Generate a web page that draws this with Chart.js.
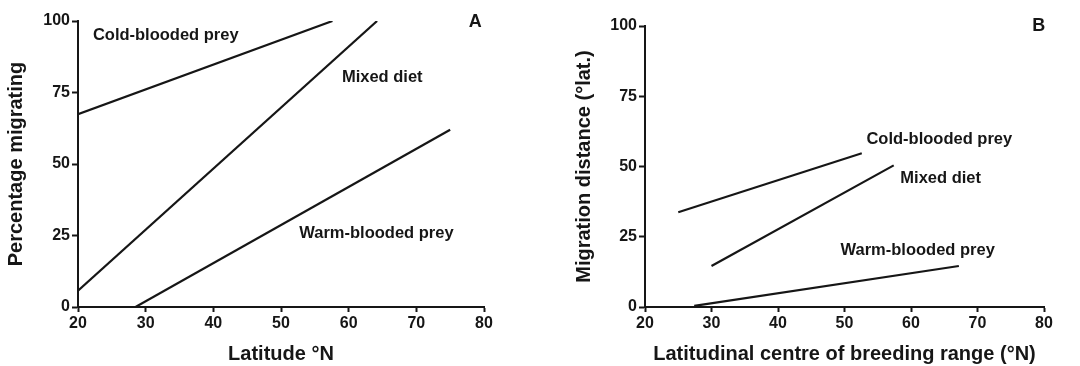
<!DOCTYPE html>
<html>
<head>
<meta charset="utf-8">
<script src="https://cdn.jsdelivr.net/npm/chart.js@4.4.1/dist/chart.umd.min.js"></script>
<style>
  html, body { margin: 0; padding: 0; background: #fff; }
  #wrap { position: relative; width: 1080px; height: 366px; overflow: hidden; }
  .panel { position: absolute; top: 0; width: 540px; height: 366px; }
</style>
</head>
<body>
<div id="wrap">
  <div class="panel" style="left:0"><canvas id="cA" width="540" height="366"></canvas></div>
  <div class="panel" style="left:540px"><canvas id="cB" width="540" height="366"></canvas></div>
</div>
<script>
// ---- Data ----
const xTicks = [20, 30, 40, 50, 60, 70, 80];
const yTicks = [0, 25, 50, 75, 100];

// Panel A: Percentage migrating vs latitude
const seriesNames = ["Cold-blooded prey", "Mixed diet", "Warm-blooded prey"];
const aColdX = [20, 57.6];
const aColdY = [67.4, 100];
const aMixedX = [20, 64.2];
const aMixedY = [5.7, 100];
const aWarmX = [28.5, 75];
const aWarmY = [0, 62];

// Panel B: Migration distance vs latitudinal centre of breeding range
const bColdX = [25, 52.6];
const bColdY = [33.7, 54.7];
const bMixedX = [30, 57.4];
const bMixedY = [14.6, 50.4];
const bWarmX = [27.4, 67.2];
const bWarmY = [0.4, 14.6];

const FONT = "'Liberation Sans', Arial, Helvetica, sans-serif";
const INK = '#161616';

function pts(xs, ys) { return xs.map((x, i) => ({ x: x, y: ys[i] })); }

// Text label plugin (positions in data coordinates)
const labelPlugin = {
  id: 'labels',
  afterDatasetsDraw(chart, args, opts) {
    const ctx = chart.ctx;
    const xs = chart.scales.x, ys = chart.scales.y;
    ctx.save();
    ctx.fillStyle = INK;
    ctx.textBaseline = 'middle';
    (opts.items || []).forEach(it => {
      ctx.font = 'bold ' + it.size + 'px ' + FONT;
      ctx.textAlign = it.align || 'left';
      ctx.fillText(it.text, xs.getPixelForValue(it.x), ys.getPixelForValue(it.y));
    });
    ctx.restore();
  }
};

function makeChart(id, datasets, xTitle, yTitle, leftW, padTop, padRight, yTitlePad, items) {
  const ds = datasets.map(d => ({
    data: d,
    borderColor: INK,
    borderWidth: 2.2,
    pointRadius: 0,
    tension: 0,
    fill: false
  }));
  return new Chart(document.getElementById(id), {
    type: 'line',
    data: { datasets: ds },
    options: {
      responsive: false,
      animation: false,
      layout: { padding: { top: padTop, right: padRight, left: 0, bottom: 0 } },
      plugins: {
        legend: { display: false },
        tooltip: { enabled: false },
        labels: { items: items }
      },
      scales: {
        x: {
          type: 'linear',
          min: xTicks[0], max: xTicks[xTicks.length - 1],
          afterBuildTicks: s => { s.ticks = xTicks.map(v => ({ value: v })); },
          ticks: { color: INK, font: { family: FONT, size: 16, weight: 'bold' }, padding: 2, maxRotation: 0 },
          grid: { drawOnChartArea: false, drawTicks: true, tickLength: 5, tickColor: INK, tickWidth: 2 },
          border: { display: true, color: INK, width: 2 },
          title: { display: true, text: xTitle, color: INK, font: { family: FONT, size: 20, weight: 'bold' }, padding: { top: 0, bottom: 0 } },
          afterFit: s => { s.height = 59; }
        },
        y: {
          type: 'linear',
          min: yTicks[0], max: yTicks[yTicks.length - 1],
          afterBuildTicks: s => { s.ticks = yTicks.map(v => ({ value: v })); },
          ticks: { color: INK, font: { family: FONT, size: 16, weight: 'bold' }, padding: 2 },
          grid: { drawOnChartArea: false, drawTicks: true, tickLength: 6, tickColor: INK, tickWidth: 2 },
          border: { display: true, color: INK, width: 2 },
          title: { display: true, text: yTitle, color: INK, font: { family: FONT, size: 20, weight: 'bold' }, padding: { top: yTitlePad, bottom: 0 } },
          afterFit: s => { s.width = leftW; }
        }
      }
    },
    plugins: [labelPlugin]
  });
}

makeChart('cA',
  [pts(aColdX, aColdY), pts(aMixedX, aMixedY), pts(aWarmX, aWarmY)],
  'Latitude °N', 'Percentage migrating',
  78, 21, 56, 4,
  [
    { text: seriesNames[0], x: 22.2, y: 95.0, size: 16.5 },
    { text: seriesNames[1], x: 59.0, y: 80.4, size: 16.5 },
    { text: seriesNames[2], x: 52.7, y: 25.6, size: 16.5 },
    { text: 'A', x: 78.7, y: 99.5, size: 18, align: 'center' }
  ]);

makeChart('cB',
  [pts(bColdX, bColdY), pts(bMixedX, bMixedY), pts(bWarmX, bWarmY)],
  'Latitudinal centre of breeding range (°N)', 'Migration distance (°lat.)',
  105, 26, 36, 32,
  [
    { text: seriesNames[0], x: 53.3, y: 59.7, size: 16.5 },
    { text: seriesNames[1], x: 58.4, y: 45.8, size: 16.5 },
    { text: seriesNames[2], x: 49.4, y: 20.2, size: 16.5 },
    { text: 'B', x: 79.2, y: 100, size: 18, align: 'center' }
  ]);
</script>
</body>
</html>
